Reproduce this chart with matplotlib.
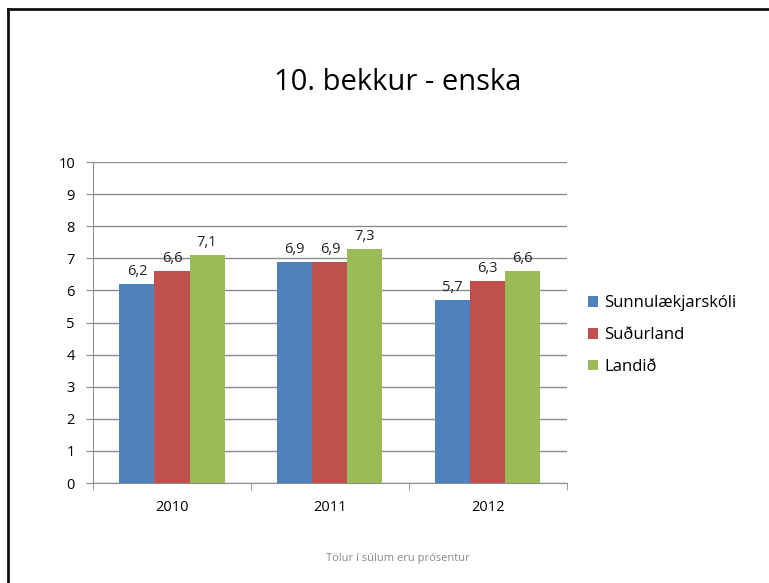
import matplotlib
matplotlib.use('Agg')
import matplotlib.pyplot as plt
from matplotlib.lines import Line2D
import numpy as np

years = ['2010', '2011', '2012']
series = ['Sunnulækjarskóli', 'Suðurland', 'Landið']
sunnulaek = [6.2, 6.9, 5.7]
sudurland = [6.6, 6.9, 6.3]
landid = [7.1, 7.3, 6.6]
colors = ['#4F81BD', '#C0504D', '#9BBB59']

plt.rcParams['font.family'] = ['Open Sans', 'DejaVu Sans']

fig = plt.figure(figsize=(7.69, 5.83), dpi=100)
ax = fig.add_axes([0.121, 0.1715, 0.616, 0.5505])

x = np.arange(len(years))
w = 0.222
for i, (vals, c) in enumerate(zip([sunnulaek, sudurland, landid], colors)):
    pos = x + (i - 1) * w
    bars = ax.bar(pos, vals, w, color=c, label=series[i], zorder=3)
    for b, v in zip(bars, vals):
        ax.text(b.get_x() + b.get_width() / 2, v + 0.15, ('%.1f' % v).replace('.', ','),
                ha='center', va='bottom', fontsize=10.5, color='#222222')

ax.set_xlim(-0.5, 2.5)
ax.set_ylim(0, 10)
ax.set_yticks(range(0, 11))
ax.yaxis.grid(True, color='#8c8c8c', lw=1, zorder=0)
ax.set_xticks(x)
ax.set_xticklabels(years, fontsize=10.5)
ax.set_xticks([-0.5, 0.5, 1.5, 2.5], minor=True)
ax.tick_params(axis='x', which='major', length=0, pad=12)
ax.tick_params(axis='x', which='minor', length=5, color='#8c8c8c')
ax.tick_params(axis='y', length=5, color='#8c8c8c', labelsize=10.5, pad=8)
for s in ['top', 'right']:
    ax.spines[s].set_visible(False)
for s in ['left', 'bottom']:
    ax.spines[s].set_color('#8c8c8c')

fig.text(0.517, 0.858, '10. bekkur - enska', ha='center', va='center', fontsize=21)
fig.legend(loc='center left', bbox_to_anchor=(0.745, 0.425), frameon=False,
           handlelength=0.6, handleheight=0.6, handletextpad=0.4, labelspacing=0.95,
           fontsize=12)
fig.text(0.517, 0.042, 'Tölur í súlum eru prósentur', ha='center', va='center',
         fontsize=8, color='#8a8a8a')

fig.add_artist(Line2D([0.0105, 0.0105], [0, 0.985], transform=fig.transFigure, color='#111111', lw=2))
fig.add_artist(Line2D([0.0105, 1], [0.985, 0.985], transform=fig.transFigure, color='#111111', lw=2))

fig.savefig('out.png', dpi=100)
